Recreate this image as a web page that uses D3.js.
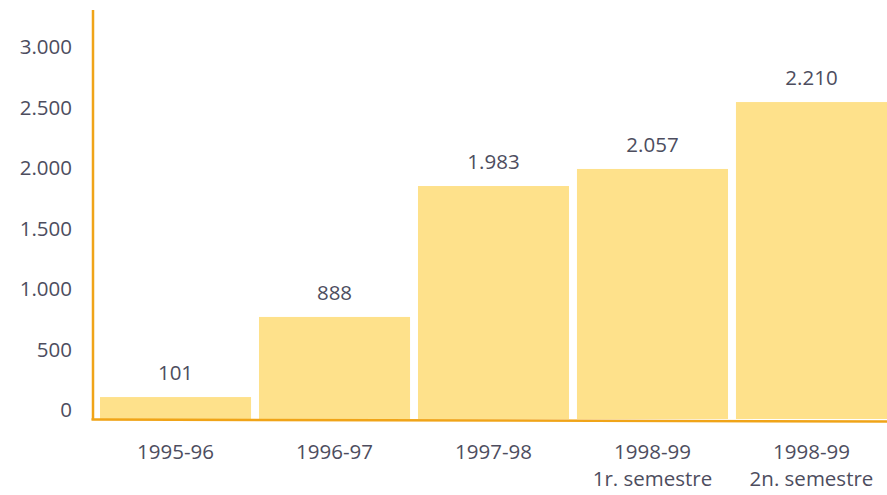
<!DOCTYPE html>
<html>
<head>
<meta charset="utf-8">
<script src="https://cdn.jsdelivr.net/npm/d3@7"></script>
<style>
  html, body { margin: 0; padding: 0; background: #ffffff; }
  svg { display: block; }
  text { font-family: "Open Sans", "Noto Sans", sans-serif; fill: #4d4d5e; }
</style>
</head>
<body>
<svg id="chart" width="887" height="495"></svg>
<script>
// ---- data ----
const categories = ["1995-96", "1996-97", "1997-98", "1998-99|1r. semestre", "1998-99|2n. semestre"];
const valueLabels = [101, 888, 1983, 2057, 2210];          // numbers printed above the bars
const barLevels   = [107, 769, 1851, 1992, 2545];          // heights the bars reach on the drawn axis
const yTicks      = [0, 500, 1000, 1500, 2000, 2500, 3000];

// ---- layout ----
const svg = d3.select("#chart");
const locale = d3.formatLocale({ decimal: ",", thousands: ".", grouping: [3], currency: ["", ""] });
const fmt = locale.format(",d");

const x = d3.scaleBand().domain(categories).range([100, 887]).paddingInner(0.05).paddingOuter(0);
const y = d3.scaleLinear().domain([0, 3000]).range([410, 47]);
const baseY = 419;
const fontSize = 20.5;

const barColor = "#fee18b";
const axisColor = "#f0a418";

// bars
svg.append("g").selectAll("rect").data(categories).join("rect")
  .attr("x", d => x(d))
  .attr("width", x.bandwidth())
  .attr("y", (d, i) => y(barLevels[i]))
  .attr("height", (d, i) => baseY - y(barLevels[i]))
  .attr("fill", barColor);

// value labels
svg.append("g").selectAll("text").data(categories).join("text")
  .attr("x", d => x(d) + x.bandwidth() / 2)
  .attr("y", (d, i) => y(barLevels[i]) - 17)
  .attr("text-anchor", "middle")
  .attr("font-size", fontSize)
  .text((d, i) => fmt(valueLabels[i]));

// y axis ticks (labels only)
const yAxis = d3.axisLeft(y).tickValues(yTicks).tickFormat(fmt).tickSize(0).tickPadding(0);
const gy = svg.append("g").attr("transform", "translate(72,0)").call(yAxis);
gy.select(".domain").remove();
gy.selectAll("text").attr("font-size", fontSize).attr("fill", "#4d4d5e")
  .style("font-family", "'Open Sans', 'Noto Sans', sans-serif");

// x axis labels
const xl = svg.append("g").selectAll("text").data(categories).join("text")
  .attr("x", d => x(d) + x.bandwidth() / 2)
  .attr("y", 459)
  .attr("text-anchor", "middle")
  .attr("font-size", fontSize);
xl.each(function(d) {
  const parts = d.split("|");
  const t = d3.select(this);
  parts.forEach((p, k) => {
    t.append("tspan").attr("x", x(d) + x.bandwidth() / 2).attr("dy", k === 0 ? 0 : 27).text(p);
  });
});

// axis lines
svg.append("line").attr("x1", 93).attr("x2", 93).attr("y1", 10).attr("y2", 420)
  .attr("stroke", axisColor).attr("stroke-width", 2.5);
svg.append("line").attr("x1", 91.5).attr("x2", 887).attr("y1", 419.5).attr("y2", 421.5)
  .attr("stroke", axisColor).attr("stroke-width", 2.5);
</script>
</body>
</html>
